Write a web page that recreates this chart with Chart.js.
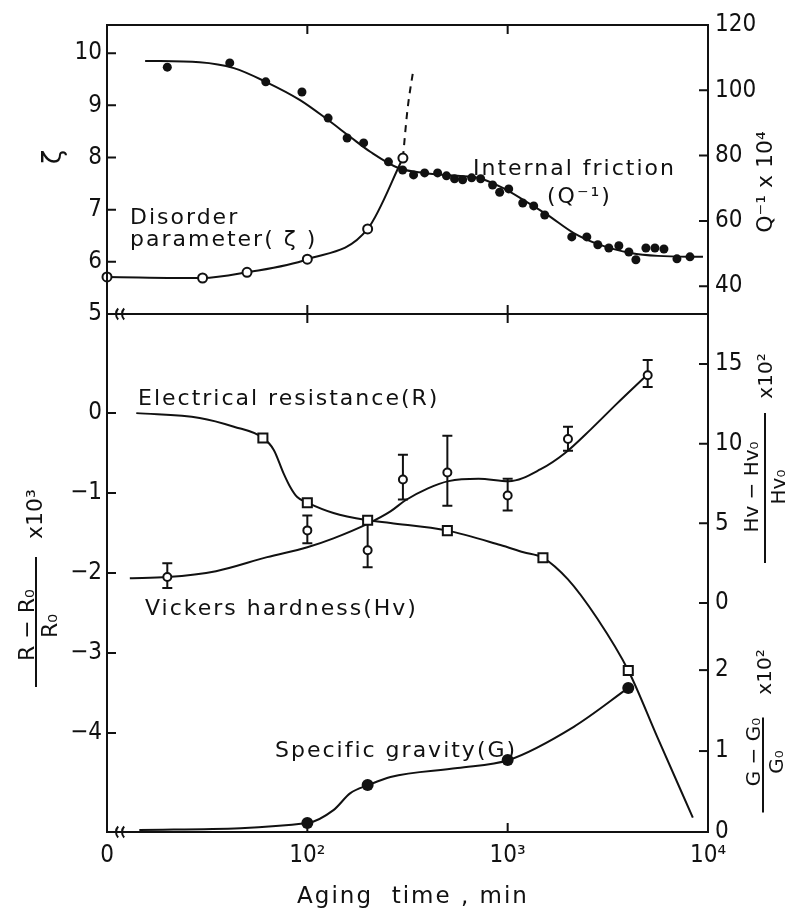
<!DOCTYPE html>
<html>
<head>
<meta charset="utf-8">
<script src="https://cdn.jsdelivr.net/npm/chart.js@4"></script>
<style>
  body { margin: 0; background: #fff; overflow: hidden; }
  #wrap { position: relative; width: 792px; height: 911px; }
  canvas { position: absolute; left: 0; top: 0; }
</style>
</head>
<body>
<div id="wrap">
  <canvas id="topChart" width="792" height="911"></canvas>
  <canvas id="bottomChart" width="792" height="911"></canvas>
</div>
<script>
// aging time in min; time 0 sits on the broken left end of the log axis
const ZERO_AT = 10;
const xTicks = [10, 100, 1000, 10000];
const xTickLabels = ['0', '10²', '10³', '10⁴'];

// top panel - internal friction Q^-1 x 10^4 (right axis)
const frictionTime = [20, 41, 62, 94, 127, 158, 191, 254, 299, 339, 385, 447, 495, 543, 596, 661, 733, 841, 912, 1012,
  1189, 1349, 1531, 2089, 2483, 2818, 3199, 3589, 4027, 4365, 4898, 5433, 6026, 6998, 8128];
const frictionQ = [107.1, 108.4, 102.6, 99.5, 91.5, 85.4, 83.9, 78.1, 75.6, 74.1, 74.7, 74.7, 73.8, 72.9, 72.6, 73.2, 72.9, 71.0, 68.8, 69.8,
  65.5, 64.6, 61.8, 55.1, 55.1, 52.7, 51.7, 52.4, 50.5, 48.1, 51.7, 51.7, 51.4, 48.4, 49.0];
const frictionFitTime = [15.5, 29, 43, 62, 92, 127, 164, 207, 285, 380, 562, 708, 923, 1202, 1585, 2138, 2917, 4121, 5623, 9441];
const frictionFitQ = [109.0, 108.6, 106.8, 102.6, 97.0, 90.9, 85.7, 81.1, 76.2, 74.7, 73.8, 73.2, 70.4, 66.4, 61.8, 56.3, 52.6, 50.2, 49.3, 49.0];
const frictionTicks = [40, 60, 80, 100, 120];

// top panel - disorder parameter zeta (left axis)
const zetaTime = [0, 30, 50, 100, 200, 300];
const zetaValues = [5.71, 5.69, 5.80, 6.05, 6.63, 7.99];
const zetaDashTime = [300, 316, 339];
const zetaDashValues = [7.99, 8.91, 9.71];
const zetaTicks = [5, 6, 7, 8, 9, 10];

// bottom panel - electrical resistance (R-R0)/R0 x 10^3 (left axis)
const resistTime = [60, 100, 200, 500, 1500, 4000];
const resistValues = [-0.31, -1.12, -1.34, -1.47, -1.81, -3.22];
const resistFitTime = [14, 29, 43, 60, 68, 76, 82, 89, 100, 135, 200, 260, 500, 920, 1200, 1500, 2000, 2800, 4000, 5600, 8400];
const resistFitValues = [0, -0.06, -0.17, -0.31, -0.46, -0.75, -0.92, -1.05, -1.12, -1.25, -1.34, -1.375, -1.47, -1.65, -1.74, -1.81,
  -2.08, -2.57, -3.22, -4.06, -5.06];
const resistTicks = [0, -1, -2, -3, -4];

// bottom panel - Vickers hardness (Hv-Hv0)/Hv0 x 10^2 (right axis), with error bars
const hardTime = [20, 100, 200, 300, 500, 1000, 2000, 5000];
const hardValues = [1.63, 4.56, 3.31, 7.75, 8.19, 6.75, 10.3, 14.3];
const hardLow = [0.94, 3.75, 2.25, 6.5, 6.1, 5.8, 9.56, 13.56];
const hardHigh = [2.5, 5.5, 5.2, 9.3, 10.5, 7.8, 11.06, 15.25];
const hardFitTime = [13, 20, 35, 63, 100, 135, 202, 260, 309, 400, 507, 716, 1012, 1462, 1928, 2600, 3500, 4898];
const hardFitValues = [1.56, 1.63, 2.0, 2.88, 3.5, 4.06, 5.0, 5.75, 6.45, 7.2, 7.65, 7.8, 7.65, 8.4, 9.4, 10.9, 12.5, 14.25];
const hardTicks = [0, 5, 10, 15];

// bottom panel - specific gravity (G-G0)/G0 x 10^2 (right axis, lower part)
const gravTime = [100, 200, 1000, 4000];
const gravValues = [0.11, 0.58, 0.89, 1.78];
const gravFitTime = [14.5, 100, 135, 164, 202, 260, 562, 1012, 2138, 4000];
const gravFitValues = [0.025, 0.11, 0.27, 0.48, 0.58, 0.68, 0.79, 0.89, 1.30, 1.78];
const gravTicks = [0, 1, 2];

const INK = '#111';
const TICK_FONT = { family: "'DejaVu Sans Condensed', 'DejaVu Sans', sans-serif", size: 24 };
const TICK_CSS = "24px 'DejaVu Sans Condensed', 'DejaVu Sans', sans-serif";
const TEXT_FONT = "22px 'DejaVu Sans', sans-serif";

const pts = (ts, vs) => ts.map((t, i) => ({ x: t === 0 ? ZERO_AT : t, y: vs[i] }));
const fixedTicks = values => scale => { scale.ticks = values.map(v => ({ value: v })); };
const minusLabel = v => (v < 0 ? '−' + Math.abs(v) : String(v));

function yAxis(position, min, max, values, width, labelFn) {
  return {
    type: 'linear', position, min, max,
    afterBuildTicks: fixedTicks(values),
    afterFit: s => { s.width = width; },
    grid: { display: false, drawTicks: false },
    border: { display: false },
    ticks: { color: INK, font: TICK_FONT, autoSkip: false, padding: position === 'left' ? 5 : 7, callback: labelFn || (v => String(v)) }
  };
}

function curve(data, axis, extra) {
  return Object.assign({ data, yAxisID: axis, showLine: true, borderColor: INK, borderWidth: 2, pointRadius: 0,
    cubicInterpolationMode: 'monotone', clip: false, order: 1 }, extra || {});
}

function marks(data, axis, extra) {
  return Object.assign({ data, yAxisID: axis, showLine: false, pointBorderColor: INK, pointBorderWidth: 2,
    pointBackgroundColor: '#fff', pointRadius: 4.5, clip: false, order: 0 }, extra || {});
}

// decoration helpers
function drawFrame(ctx, a) {
  ctx.save();
  ctx.strokeStyle = INK; ctx.lineWidth = 2;
  ctx.strokeRect(a.left, a.top, a.right - a.left, a.bottom - a.top);
  ctx.restore();
}

function drawInnerTicks(chart, ids, len) {
  const { ctx, chartArea: a } = chart;
  ctx.save();
  ctx.strokeStyle = INK; ctx.lineWidth = 2;
  ctx.beginPath();
  ids.forEach(id => {
    const s = chart.scales[id];
    s.ticks.forEach(t => {
      const p = s.getPixelForValue(t.value);
      if (s.isHorizontal()) {
        if (p < a.left + 2 || p > a.right - 2) return;
        ctx.moveTo(p, a.top); ctx.lineTo(p, a.top + len);
        ctx.moveTo(p, a.bottom); ctx.lineTo(p, a.bottom - len);
      } else {
        if (p < a.top + 2 || p > a.bottom - 2) return;
        const x0 = s.position === 'left' ? a.left : a.right;
        const dir = s.position === 'left' ? 1 : -1;
        ctx.moveTo(x0, p); ctx.lineTo(x0 + dir * len, p);
      }
    });
  });
  ctx.stroke();
  ctx.restore();
}

// the gravity scale shares the right edge with the hardness scale, so its ticks are drawn here
function drawGravityScale(chart, len) {
  const { ctx, chartArea: a } = chart;
  const s = chart.scales.yG;
  ctx.save();
  ctx.strokeStyle = INK; ctx.fillStyle = INK; ctx.lineWidth = 2;
  ctx.font = TICK_CSS; ctx.textAlign = 'left'; ctx.textBaseline = 'middle';
  gravTicks.forEach(v => {
    const p = s.getPixelForValue(v);
    if (p < a.bottom - 2) {
      ctx.beginPath(); ctx.moveTo(a.right, p); ctx.lineTo(a.right - len, p); ctx.stroke();
    }
    ctx.fillText(String(v), a.right + 7, p);
  });
  ctx.restore();
}

function breakMarks(ctx, x, y) {
  ctx.save();
  ctx.strokeStyle = INK; ctx.lineWidth = 2;
  [0, 6].forEach(dx => {
    ctx.beginPath();
    ctx.arc(x + dx + 7, y, 8, Math.PI * 0.76, Math.PI * 1.24);
    ctx.stroke();
  });
  ctx.restore();
}

function label(ctx, str, x, y, align) {
  ctx.save();
  ctx.font = TEXT_FONT; ctx.fillStyle = INK;
  ctx.letterSpacing = '2px';
  ctx.textAlign = align || 'left'; ctx.textBaseline = 'alphabetic';
  ctx.fillText(str, x, y);
  ctx.restore();
}

function rotated(ctx, str, x, y, size) {
  ctx.save();
  ctx.translate(x, y); ctx.rotate(-Math.PI / 2);
  ctx.font = size + "px 'DejaVu Sans', sans-serif"; ctx.fillStyle = INK;
  ctx.textAlign = 'center'; ctx.textBaseline = 'middle';
  ctx.fillText(str, 0, 0);
  ctx.restore();
}

// rotated fraction title: u runs up the page, v runs to the right
function fraction(ctx, f) {
  ctx.save();
  ctx.translate(f.x, f.y); ctx.rotate(-Math.PI / 2);
  ctx.font = f.size + "px 'DejaVu Sans', sans-serif";
  ctx.fillStyle = INK; ctx.strokeStyle = INK; ctx.lineWidth = 2;
  ctx.beginPath(); ctx.moveTo(-f.len / 2, 0); ctx.lineTo(f.len / 2, 0); ctx.stroke();
  ctx.textAlign = 'center'; ctx.textBaseline = 'alphabetic';
  ctx.fillText(f.num, f.numU, -f.numGap);
  ctx.fillText(f.den, f.denU, f.denBase);
  ctx.textBaseline = 'middle';
  ctx.fillText(f.mult, f.multU, f.multV);
  ctx.restore();
}

const topDecor = {
  id: 'topDecor',
  afterDraw(chart) {
    const { ctx, chartArea: a } = chart;
    drawFrame(ctx, a);
    drawInnerTicks(chart, ['x', 'yZ', 'yQ'], 9);
    label(ctx, 'Disorder', 130, 224);
    label(ctx, 'parameter( ζ )', 130, 246);
    label(ctx, 'Internal friction', 473, 175);
    label(ctx, '(Q⁻¹)', 547, 203);
    rotated(ctx, 'ζ', 54, 157, 26);
    rotated(ctx, 'Q⁻¹ x 10⁴', 766, 182, 22);
  }
};

const bottomDecor = {
  id: 'bottomDecor',
  beforeDatasetsDraw(chart) {
    // error bars of the hardness points
    const { ctx } = chart;
    const xs = chart.scales.x, ys = chart.scales.yHv;
    ctx.save();
    ctx.strokeStyle = INK; ctx.lineWidth = 2;
    ctx.beginPath();
    hardTime.forEach((t, i) => {
      const px = xs.getPixelForValue(t);
      const lo = ys.getPixelForValue(hardLow[i]);
      const hi = ys.getPixelForValue(hardHigh[i]);
      ctx.moveTo(px, lo); ctx.lineTo(px, hi);
      ctx.moveTo(px - 5, lo); ctx.lineTo(px + 5, lo);
      ctx.moveTo(px - 5, hi); ctx.lineTo(px + 5, hi);
    });
    ctx.stroke();
    ctx.restore();
  },
  afterDraw(chart) {
    const { ctx, chartArea: a } = chart;
    drawFrame(ctx, a);
    drawInnerTicks(chart, ['x', 'yR', 'yHv'], 9);
    drawGravityScale(chart, 9);
    breakMarks(ctx, a.left + 10, a.top);
    breakMarks(ctx, a.left + 10, a.bottom);
    label(ctx, 'Electrical resistance(R)', 138, 405);
    label(ctx, 'Vickers hardness(Hv)', 145, 615);
    label(ctx, 'Specific gravity(G)', 275, 757);
    ctx.save(); ctx.font = "23px 'DejaVu Sans', sans-serif"; ctx.fillStyle = INK; ctx.letterSpacing = '2px';
    ctx.textAlign = 'center'; ctx.fillText('Aging  time , min', 413, 903); ctx.restore();
    fraction(ctx, { x: 36, y: 622, len: 130, size: 22, num: 'R − R₀', numU: -3, numGap: 2,
      den: 'R₀', denU: -4, denBase: 21, mult: 'x10³', multU: 108, multV: 0 });
    fraction(ctx, { x: 765, y: 488, len: 150, size: 20, num: 'Hv − Hv₀', numU: 1, numGap: 7,
      den: 'Hv₀', denU: 1, denBase: 20, mult: 'x10²', multU: 112, multV: 2 });
    fraction(ctx, { x: 763, y: 765, len: 95, size: 20, num: 'G − G₀', numU: 13, numGap: 3,
      den: 'G₀', denU: 3, denBase: 20, mult: 'x10²', multU: 93, multV: 3 });
  }
};

const common = {
  responsive: false,
  animation: false,
  events: [],
  plugins: { legend: { display: false }, tooltip: { enabled: false } }
};

new Chart(document.getElementById('topChart'), {
  type: 'scatter',
  data: {
    datasets: [
      marks(pts(frictionTime, frictionQ), 'yQ', { pointBackgroundColor: INK, pointBorderWidth: 0, pointRadius: 4.5 }),
      Object.assign(marks(pts(zetaTime, zetaValues), 'yZ', { pointRadius: 4.5 }),
        { showLine: true, borderColor: INK, borderWidth: 2, cubicInterpolationMode: 'monotone' }),
      curve(pts(frictionFitTime, frictionFitQ), 'yQ'),
      curve(pts(zetaDashTime, zetaDashValues), 'yZ', { borderDash: [7, 6] })
    ]
  },
  options: Object.assign({}, common, {
    layout: { padding: { top: 25, bottom: 597, left: 0, right: 0 } },
    scales: {
      x: { type: 'logarithmic', min: 10, max: 10000, display: false, afterBuildTicks: fixedTicks(xTicks) },
      yZ: yAxis('left', 5, 10.54, zetaTicks, 107),
      yQ: yAxis('right', 31.5, 120, frictionTicks, 84)
    }
  }),
  plugins: [topDecor]
});

new Chart(document.getElementById('bottomChart'), {
  type: 'scatter',
  data: {
    datasets: [
      marks(pts(resistTime, resistValues), 'yR', { pointStyle: 'rect', pointRadius: 6.4 }),
      marks(pts(hardTime, hardValues), 'yHv', { pointRadius: 4 }),
      marks(pts(gravTime, gravValues), 'yG', { pointBackgroundColor: INK, pointBorderWidth: 0, pointRadius: 6 }),
      curve(pts(resistFitTime, resistFitValues), 'yR'),
      curve(pts(hardFitTime, hardFitValues), 'yHv'),
      curve(pts(gravFitTime, gravFitValues), 'yG')
    ]
  },
  options: Object.assign({}, common, {
    layout: { padding: { top: 314, bottom: 0, left: 0, right: 0 } },
    scales: {
      x: {
        type: 'logarithmic', min: 10, max: 10000, position: 'bottom',
        afterBuildTicks: fixedTicks(xTicks),
        afterFit: s => { s.height = 79; },
        grid: { display: false, drawTicks: false },
        border: { display: false },
        ticks: { color: INK, font: TICK_FONT, padding: 9, autoSkip: false, maxRotation: 0, minRotation: 0,
          callback: v => xTickLabels[xTicks.indexOf(v)] }
      },
      yR: yAxis('left', -5.24, 1.24, resistTicks, 107, minusLabel),
      yHv: yAxis('right', -14.37, 18.14, hardTicks, 84),
      yG: { type: 'linear', position: 'right', min: 0, max: 6.4, display: false }
    }
  }),
  plugins: [bottomDecor]
});
</script>
</body>
</html>
